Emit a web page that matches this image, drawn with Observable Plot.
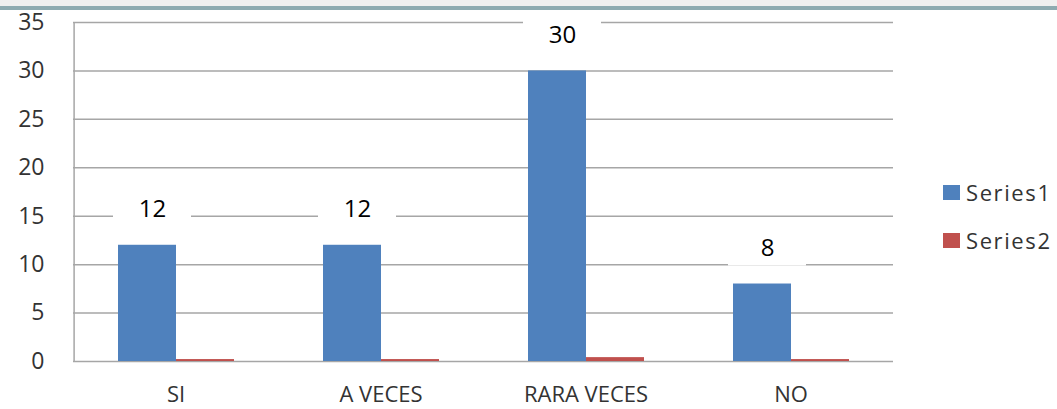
<!DOCTYPE html>
<html>
<head>
<meta charset="utf-8">
<script src="https://cdn.jsdelivr.net/npm/d3@7"></script>
<script src="https://cdn.jsdelivr.net/npm/@observablehq/plot@0.6"></script>
<style>
  html, body { margin: 0; padding: 0; background: #fff; }
  #wrap { position: relative; width: 1057px; height: 409px; overflow: hidden; font-family: "Open Sans", sans-serif; }
  #band1 { position: absolute; left: 0; top: 0; width: 1057px; height: 6px; background: #f0f0f0; }
  #band2 { position: absolute; left: 0; top: 6px; width: 1057px; height: 4px; background: #8eabb1; }
  #chart { position: absolute; left: 0; top: 0; }
  .leg { position: absolute; left: 943px; display: flex; align-items: center; font-size: 22px; color: #333; letter-spacing: 1.6px; }
  .sw { width: 17px; height: 15px; margin-right: 6px; }
</style>
</head>
<body>
<div id="wrap">
  <div id="chart"></div>
  <div id="band1"></div>
  <div id="band2"></div>
  <div id="legend"></div>
</div>
<script>
const categories = ["SI", "A VECES", "RARA VECES", "NO"];
const seriesNames = ["Series1", "Series2"];
const series1 = [12, 12, 30, 8];
const series2 = [0.2, 0.2, 0.4, 0.2];
const yTicks = [0, 5, 10, 15, 20, 25, 30, 35];
const colors = ["#4f81bd", "#c0504d"];

const rows = [];
categories.forEach((c, i) => {
  rows.push({cat: c, s: seriesNames[0], v: series1[i]});
  rows.push({cat: c, s: seriesNames[1], v: series2[i]});
});
const labels = categories.map((c, i) => ({cat: c, s: seriesNames[0], v: series1[i]}));
const axisAnchor = [{cat: categories[0], s: seriesNames[0]}];

const chart = Plot.plot({
  width: 1057,
  height: 409,
  marginLeft: 71,
  marginRight: 163,
  marginTop: 22,
  marginBottom: 48,
  style: {fontFamily: "'Open Sans', sans-serif", background: "transparent", overflow: "visible"},
  fx: {domain: categories, padding: 0, label: null},
  x: {domain: seriesNames, paddingInner: 0, paddingOuter: 0.744, axis: null},
  y: {domain: [0, 35], label: null},
  color: {domain: seriesNames, range: colors},
  marks: [
    Plot.gridY(yTicks, {stroke: "#a6a6a6", strokeOpacity: 1, strokeWidth: 1.5}),
    Plot.ruleX(axisAnchor, {fx: "cat", x: "s", y1: 0, y2: 35, dx: -73.4, stroke: "#a6a6a6", strokeWidth: 1.5}),
    Plot.axisY(yTicks, {tickSize: 0, tickPadding: 29, fontSize: 23, fill: "#333", label: null}),
    Plot.axisFx({anchor: "bottom", tickSize: 0, tickPadding: 25, fontSize: 22, fill: "#333", label: null, style: "letter-spacing:1.8px"}),
    Plot.barY(labels, {fx: "cat", x: "s", y1: "v", y2: "v", fill: "white", insetTop: -18, insetBottom: -18, insetLeft: -10, insetRight: -10, dy: -36, dx: 5}),
    Plot.text(labels, {fx: "cat", x: "s", y: "v", text: d => String(d.v), dy: -36, dx: 5, fontSize: 24, fill: "black"}),
    Plot.barY(rows, {fx: "cat", x: "s", y: "v", fill: "s"})
  ]
});
document.getElementById("chart").appendChild(chart);

const legend = document.getElementById("legend");
const legTops = [177, 225];
seriesNames.forEach((name, i) => {
  const d = document.createElement("div");
  d.className = "leg";
  d.style.top = legTops[i] + "px";
  d.innerHTML = `<span class="sw" style="background:${colors[i]}"></span><span>${name}</span>`;
  legend.appendChild(d);
});
</script>
</body>
</html>
